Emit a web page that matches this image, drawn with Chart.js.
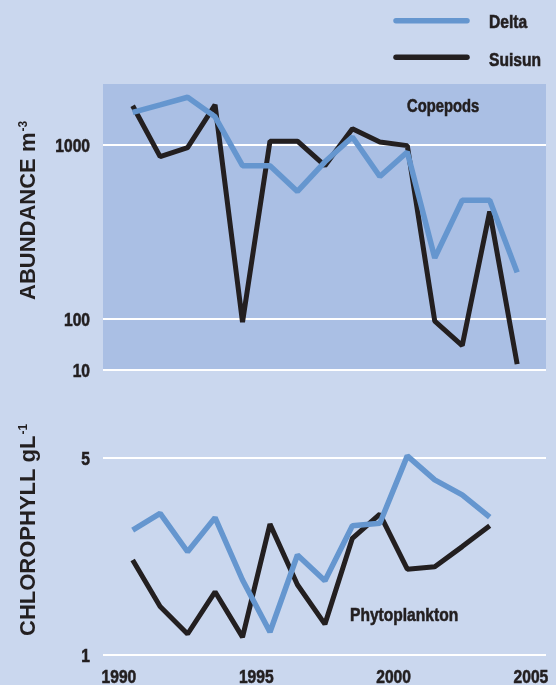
<!DOCTYPE html>
<html>
<head>
<meta charset="utf-8">
<title>Copepods and phytoplankton</title>
<script src="https://cdn.jsdelivr.net/npm/chart.js@4.4.1/dist/chart.umd.min.js"></script>
<style>
  html, body { margin: 0; padding: 0; background: #cad7ee; }
  #wrap { position: relative; width: 556px; height: 685px; overflow: hidden; }
  canvas { position: absolute; left: 0; display: block; }
  #top { top: 0; }
  #bottom { top: 380px; }
</style>
</head>
<body>
<div id="wrap">
  <canvas id="top" width="556" height="380"></canvas>
  <canvas id="bottom" width="556" height="305"></canvas>
</div>
<script>
// annual means, plotted in the middle of each year
const years = [1990, 1991, 1992, 1993, 1994, 1995, 1996, 1997, 1998, 1999, 2000, 2001, 2002, 2003, 2004];
const copepodDelta  = [1540, 1700, 1880, 1450, 760, 760, 540, 800, 1110, 658, 910, 224, 481, 481, 185];
const copepodSuisun = [1680, 857, 964, 1700, 86, 1050, 1050, 760, 1240, 1040, 991, 90, 30, 414, 13];

const chlYears = [1990, 1991, 1992, 1993, 1994, 1995, 1996, 1997, 1998, 1999, 2000, 2001, 2002, 2003];
const chlDelta  = [2.78, 3.19, 2.33, 3.08, 1.85, 1.21, 2.27, 1.84, 2.88, 2.94, 5.10, 4.19, 3.71, 3.09];
const chlSuisun = [2.18, 1.49, 1.19, 1.68, 1.16, 2.92, 1.78, 1.29, 2.60, 3.17, 2.02, 2.06, 2.43, 2.88];

const abundanceTicks = [10, 100, 1000];
const chlTicks = [1, 5];
const yearTicks = [1990, 1995, 2000, 2005];

const seriesNames = ['Delta', 'Suisun'];
const seriesColors = ['#6596cf', '#231f20'];
const seriesWidths = [5.5, 5];

const ink = '#231f20';
const wide = "'Liberation Sans', Arial, sans-serif";

// the abundance axis is log, except the 10-100 decade which is squeezed
const squeeze = 0.294;
function abundancePos(v) {
    const l = Math.log10(v);
    return l >= 2 ? l : 2 + (l - 2) * squeeze;
}

function points(xs, vs, f) {
    return xs.map((yr, i) => ({ x: yr + 0.5, y: f ? f(vs[i]) : vs[i] }));
}

function lineSet(i, data) {
    return {
        label: seriesNames[i],
        data: data,
        borderColor: seriesColors[i],
        borderWidth: seriesWidths[i],
        borderJoinStyle: 'bevel',
        pointRadius: 0,
        tension: 0,
        fill: false
    };
}

// condensed bold text (no narrow face installed, so squeeze the regular one)
function drawNarrow(ctx, text, x, y, size, align) {
    ctx.save();
    ctx.fillStyle = ink;
    ctx.strokeStyle = ink;
    ctx.lineWidth = 0.6;
    ctx.font = 'bold ' + size + 'px ' + wide;
    ctx.textAlign = align || 'left';
    ctx.textBaseline = 'alphabetic';
    ctx.translate(x, y);
    ctx.scale(0.82, 1);
    ctx.fillText(text, 0, 0);
    ctx.strokeText(text, 0, 0);
    ctx.restore();
}

function drawTitle(ctx, x, y, text, sup) {
    ctx.save();
    ctx.translate(x, y);
    ctx.rotate(-Math.PI / 2);
    ctx.fillStyle = ink;
    ctx.textAlign = 'left';
    ctx.textBaseline = 'alphabetic';
    ctx.font = 'bold 22px ' + wide;
    ctx.fillText(text, 0, 0);
    const w = ctx.measureText(text).width;
    ctx.font = 'bold 12px ' + wide;
    ctx.fillText(sup, w + 1, -8.5);
    ctx.restore();
}

// darker box behind the copepod panel
const panelFill = {
    id: 'panelFill',
    beforeDraw(chart) {
        const { ctx, chartArea: a } = chart;
        ctx.save();
        ctx.fillStyle = '#aabfe4';
        ctx.fillRect(a.left, a.top, a.right - a.left, a.bottom - a.top + 1);
        ctx.restore();
    }
};

// tick labels drawn from the chart's own scales
function tickLabels(yLabels, xLabels) {
    return {
        id: 'tickLabels',
        afterDraw(chart) {
            const ctx = chart.ctx;
            const ys = chart.scales.y;
            ys.ticks.forEach((t, i) => {
                drawNarrow(ctx, String(yLabels[i]), 90, ys.getPixelForValue(t.value) + 7, 19, 'right');
            });
            if (xLabels) {
                const xs = chart.scales.x;
                xLabels.forEach(v => {
                    drawNarrow(ctx, String(v), xs.getPixelForValue(v), chart.height - 1.7, 19, 'center');
                });
            }
        }
    };
}

// legend, panel name and axis title for the top chart
const topDecor = {
    id: 'topDecor',
    afterDraw(chart) {
        const ctx = chart.ctx;
        chart.data.datasets.forEach((ds, i) => {
            const y = 20.7 + i * 36.6;
            ctx.save();
            ctx.strokeStyle = ds.borderColor;
            ctx.lineWidth = 5.5;
            ctx.lineCap = 'round';
            ctx.beginPath();
            ctx.moveTo(396, y);
            ctx.lineTo(467, y);
            ctx.stroke();
            ctx.restore();
            drawNarrow(ctx, ds.label, 489, y + 7.5 + i, 19);
        });
        drawNarrow(ctx, 'Copepods', 407, 112, 18);
        drawTitle(ctx, 35, 300, 'ABUNDANCE m', '-3');
    }
};

const bottomDecor = {
    id: 'bottomDecor',
    afterDraw(chart) {
        const ctx = chart.ctx;
        drawNarrow(ctx, 'Phytoplankton', 350, 241, 19);
        drawTitle(ctx, 35, 256, 'CHLOROPHYLL gL', '-1');
    }
};

const xRange = { min: 1989.42, max: 2005.55 };

function yAxisFit(scale) {
    scale.width = 103;
    scale.paddingTop = 0;
    scale.paddingBottom = 0;
}

new Chart(document.getElementById('top'), {
    type: 'line',
    data: {
        datasets: [
            lineSet(0, points(years, copepodDelta, abundancePos)),
            lineSet(1, points(years, copepodSuisun, abundancePos))
        ]
    },
    options: {
        responsive: false,
        animation: false,
        layout: { padding: { top: 84, right: 10, bottom: 10, left: 0 } },
        plugins: { legend: { display: false }, tooltip: { enabled: false } },
        scales: {
            x: { type: 'linear', min: xRange.min, max: xRange.max, display: false },
            y: {
                type: 'linear',
                min: abundancePos(10),
                max: abundancePos(2240),
                afterBuildTicks: s => { s.ticks = abundanceTicks.map(v => ({ value: abundancePos(v) })); },
                afterFit: yAxisFit,
                grid: { color: '#ffffff', lineWidth: 2, drawTicks: false },
                border: { display: false },
                ticks: { display: false }
            }
        }
    },
    plugins: [panelFill, tickLabels(abundanceTicks), topDecor]
});

new Chart(document.getElementById('bottom'), {
    type: 'line',
    data: {
        datasets: [
            lineSet(0, points(chlYears, chlDelta)),
            lineSet(1, points(chlYears, chlSuisun))
        ]
    },
    options: {
        responsive: false,
        animation: false,
        layout: { padding: { top: 50, right: 10, bottom: 29.7, left: 0 } },
        plugins: { legend: { display: false }, tooltip: { enabled: false } },
        scales: {
            x: { type: 'linear', min: xRange.min, max: xRange.max, display: false },
            y: {
                type: 'logarithmic',
                min: 1,
                max: 6.3,
                afterBuildTicks: s => { s.ticks = chlTicks.map(v => ({ value: v })); },
                afterFit: yAxisFit,
                grid: { color: '#ffffff', lineWidth: 2, drawTicks: false },
                border: { display: false },
                ticks: { display: false }
            }
        }
    },
    plugins: [tickLabels(chlTicks, yearTicks), bottomDecor]
});
</script>
</body>
</html>
